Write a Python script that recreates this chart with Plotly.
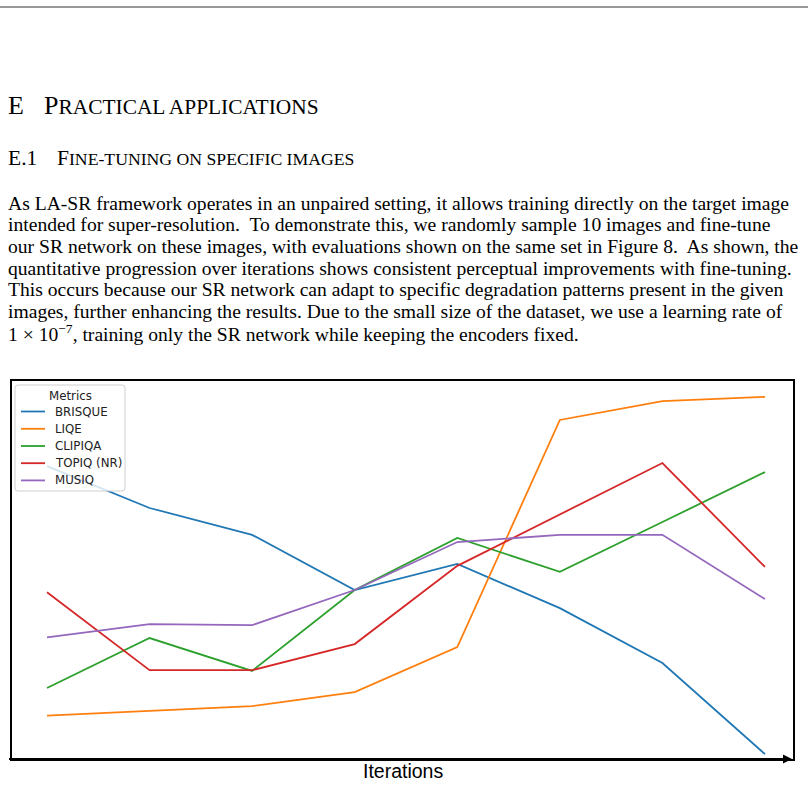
import plotly.graph_objects as go

# ---- data (normalised scores, 0 = bottom, 1 = top) ----
iterations = [0, 1, 2, 3, 4, 5, 6, 7]
metric_names = ["BRISQUE", "LIQE", "CLIPIQA", "TOPIQ (NR)", "MUSIQ"]
brisque = [0.775, 0.664, 0.593, 0.447, 0.516, 0.399, 0.254, 0.013]
liqe = [0.115, 0.127, 0.140, 0.177, 0.296, 0.897, 0.947, 0.958]
clipiqa = [0.188, 0.320, 0.233, 0.447, 0.585, 0.495, 0.627, 0.759]
topiq = [0.441, 0.235, 0.235, 0.304, 0.511, 0.646, 0.783, 0.508]
musiq = [0.322, 0.357, 0.354, 0.447, 0.574, 0.593, 0.593, 0.423]
series = [brisque, liqe, clipiqa, topiq, musiq]
colors = ["#1f77b4", "#ff7f0e", "#2ca02c", "#d62728", "#9467bd"]
legend_title = "Metrics"
x_label = "Iterations"

body_lines = [
    "As LA-SR framework operates in an unpaired setting, it allows training directly on the target image",
    "intended for super-resolution.  To demonstrate this, we randomly sample 10 images and fine-tune",
    "our SR network on these images, with evaluations shown on the same set in Figure 8.  As shown, the",
    "quantitative progression over iterations shows consistent perceptual improvements with fine-tuning.",
    "This occurs because our SR network can adapt to specific degradation patterns present in the given",
    "images, further enhancing the results. Due to the small size of the dataset, we use a learning rate of",
    "1 \u00d7 10<sup><span style='font-size:13.5px'>\u22127</span></sup>, training only the SR network while keeping the encoders fixed.",
]

W, H = 808, 785
L, R, T, B = 12, 15, 381, 26
PW, PH = W - L - R, H - T - B


def px(x):
    return (x - L) / PW


def py(y):
    return (H - B - y) / PH


fig = go.Figure()
for name, vals, c in zip(metric_names, series, colors):
    fig.add_trace(go.Scatter(x=iterations, y=vals, mode="lines", name=name,
                             showlegend=False, line=dict(color=c, width=1.8)))

serif = "Liberation Serif"
ann = []
# section heading
ann.append(dict(x=px(6), y=py(105), text="E", font=dict(family=serif, size=26, color="black")))
ann.append(dict(x=px(42), y=py(105),
                text="P<span style='font-size:21.4px'>RACTICAL APPLICATIONS</span>",
                font=dict(family=serif, size=26, color="black")))
# subsection heading
ann.append(dict(x=px(6), y=py(158), text="E.1", font=dict(family=serif, size=21.5, color="black")))
ann.append(dict(x=px(55), y=py(158),
                text="F<span style='font-size:17.7px'>INE-TUNING ON SPECIFIC IMAGES</span>",
                font=dict(family=serif, size=21.5, color="black")))
# body
for i, line in enumerate(body_lines):
    ann.append(dict(x=px(6), y=py(203 + i * 21.7), text=line,
                    font=dict(family=serif, size=19.6, color="black")))
for a in ann:
    a.update(xref="paper", yref="paper", xanchor="left", yanchor="middle", showarrow=False)

# x-axis label
ann.append(dict(x=px(403), y=py(771), xref="paper", yref="paper", text=x_label,
                showarrow=False, xanchor="center", yanchor="middle",
                font=dict(family="Liberation Sans", size=19.5, color="black")))
# arrow head on bottom axis
ann.append(dict(x=px(792), y=0, xref="paper", yref="paper", ax=-20, ay=0,
                axref="pixel", ayref="pixel", text="", showarrow=True,
                arrowhead=2, arrowsize=1, arrowwidth=1.8, arrowcolor="black"))

shapes = [
    dict(type="line", xref="paper", yref="paper", x0=px(0), x1=px(808), y0=py(7), y1=py(7),
         line=dict(color="#333333", width=1.2)),
    dict(type="line", xref="paper", yref="paper", x0=px(9), x1=px(790), y0=0, y1=0,
         line=dict(color="black", width=2)),
]

# ---- hand-built legend (matplotlib style, rounded frame) ----
bx0, bx1, by0, by1, rad = 15, 125, 385, 491, 3


def rounded_path(x0, x1, y0, y1, r):
    pts = [
        f"M {px(x0 + r)},{py(y0)}",
        f"L {px(x1 - r)},{py(y0)}",
        f"Q {px(x1)},{py(y0)} {px(x1)},{py(y0 + r)}",
        f"L {px(x1)},{py(y1 - r)}",
        f"Q {px(x1)},{py(y1)} {px(x1 - r)},{py(y1)}",
        f"L {px(x0 + r)},{py(y1)}",
        f"Q {px(x0)},{py(y1)} {px(x0)},{py(y1 - r)}",
        f"L {px(x0)},{py(y0 + r)}",
        f"Q {px(x0)},{py(y0)} {px(x0 + r)},{py(y0)}",
        "Z",
    ]
    return " ".join(pts)


shapes.append(dict(type="path", xref="paper", yref="paper", layer="above",
                   path=rounded_path(bx0, bx1, by0, by1, rad),
                   fillcolor="rgba(255,255,255,0.8)",
                   line=dict(color="#d0d0d0", width=1)))
ann.append(dict(x=px(70), y=py(395.5), xref="paper", yref="paper", text=legend_title,
                showarrow=False, xanchor="center", yanchor="middle",
                font=dict(family="DejaVu Sans", size=11.8, color="#222222")))
entry_y = [411.5, 428.8, 446, 463.2, 480.4]
for name, c, ey in zip(metric_names, colors, entry_y):
    shapes.append(dict(type="line", xref="paper", yref="paper", layer="above",
                       x0=px(21), x1=px(45), y0=py(ey), y1=py(ey),
                       line=dict(color=c, width=1.8)))
    ann.append(dict(x=px(52.5), y=py(ey), xref="paper", yref="paper", text=name,
                    showarrow=False, xanchor="left", yanchor="middle",
                    font=dict(family="DejaVu Sans", size=11.8, color="#222222")))

fig.update_layout(
    width=W, height=H,
    margin=dict(l=L, r=R, t=T, b=B),
    paper_bgcolor="white", plot_bgcolor="white",
    showlegend=False,
    xaxis=dict(range=[-(47 - L) / 102.57, 7 + (793 - 765) / 102.57],
               showgrid=False, zeroline=False, showticklabels=False, ticks="",
               showline=True, mirror=True, linecolor="black", linewidth=1.5),
    yaxis=dict(range=[0, 1], showgrid=False, zeroline=False, showticklabels=False, ticks="",
               showline=True, mirror=True, linecolor="black", linewidth=1.5),
    annotations=ann,
    shapes=shapes,
)

fig.write_html("out.html")
